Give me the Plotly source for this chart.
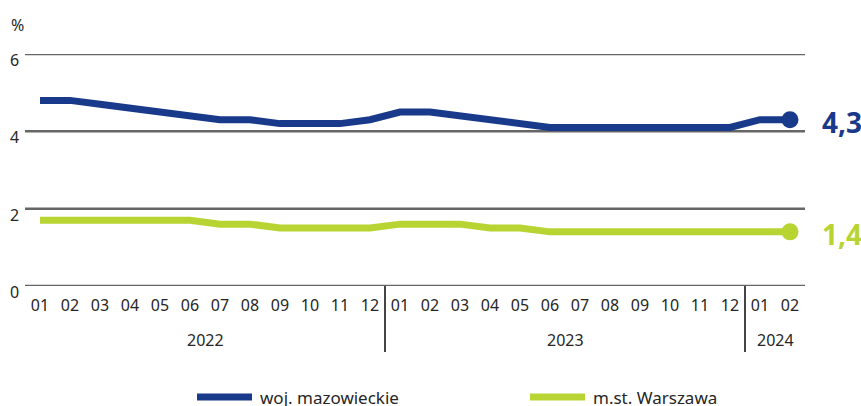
import plotly.graph_objects as go

months = ["01","02","03","04","05","06","07","08","09","10","11","12",
          "01","02","03","04","05","06","07","08","09","10","11","12",
          "01","02"]
years = ["2022", "2023", "2024"]
year_counts = [12, 12, 2]
mazowieckie = [4.8, 4.8, 4.7, 4.6, 4.5, 4.4, 4.3, 4.3, 4.2, 4.2, 4.2, 4.3,
               4.5, 4.5, 4.4, 4.3, 4.2, 4.1, 4.1, 4.1, 4.1, 4.1, 4.1, 4.1,
               4.3, 4.3]
warszawa = [1.7, 1.7, 1.7, 1.7, 1.7, 1.7, 1.6, 1.6, 1.5, 1.5, 1.5, 1.5,
            1.6, 1.6, 1.6, 1.5, 1.5, 1.4, 1.4, 1.4, 1.4, 1.4, 1.4, 1.4,
            1.4, 1.4]
series_names = ["woj. mazowieckie", "m.st. Warszawa"]
end_labels = ["4,3", "1,4"]
y_ticks = [0, 2, 4, 6]

BLUE = "#19398a"
GREEN = "#b7d433"
GRID = "#666666"
TEXT = "#262626"
FONT = "Noto Sans"

x = list(range(len(months)))
fig = go.Figure()

for vals, color, name in [(mazowieckie, BLUE, series_names[0]), (warszawa, GREEN, series_names[1])]:
    fig.add_trace(go.Scatter(x=x, y=vals, mode="lines", name=name,
                             line=dict(color=color, width=7), showlegend=False,
                             hoverinfo="skip"))
    fig.add_trace(go.Scatter(x=[x[-1]], y=[vals[-1]], mode="markers",
                             marker=dict(color=color, size=17), showlegend=False,
                             hoverinfo="skip"))

# gridlines
for t in y_ticks:
    fig.add_shape(type="line", xref="paper", yref="y", x0=0, x1=1, y0=t, y1=t,
                  line=dict(color=GRID, width=2.5), layer="below")
    fig.add_annotation(xref="paper", yref="y", x=0, y=t, text=str(t), showarrow=False,
                       xanchor="right", yanchor="middle", xshift=-4, yshift=-6,
                       font=dict(family=FONT, size=16, color=TEXT))

# year dividers and labels
start = 0
for i, (yr, cnt) in enumerate(zip(years, year_counts)):
    end = start + cnt
    if i < len(years) - 1:
        fig.add_shape(type="line", xref="x", yref="paper", x0=end - 0.5, x1=end - 0.5,
                      y0=0, y1=-0.285, line=dict(color="#444444", width=2))
    fig.add_annotation(xref="x", yref="paper", x=(start + end - 1) / 2, y=0, yshift=-54,
                       text=yr, showarrow=False, yanchor="middle",
                       font=dict(family=FONT, size=16, color=TEXT))
    start = end

# end labels
for vals, color, lab in [(mazowieckie, BLUE, end_labels[0]), (warszawa, GREEN, end_labels[1])]:
    fig.add_annotation(xref="x", yref="y", x=x[-1], y=vals[-1], text="<b>" + lab + "</b>",
                       showarrow=False, xanchor="left", yanchor="middle", xshift=30, yshift=-2,
                       font=dict(family=FONT, size=28, color=color))

# % label
fig.add_annotation(xref="paper", yref="paper", x=0, y=1, yshift=29, xshift=-8, text="%",
                   showarrow=False, xanchor="center", yanchor="middle",
                   font=dict(family=FONT, size=16, color=TEXT))

# legend (custom)
legend_items = [(BLUE, series_names[0], 197), (GREEN, series_names[1], 530)]
for color, name, px in legend_items:
    fig.add_shape(type="line", xref="paper", yref="paper",
                  x0=(px - 25) / 780, x1=(px + 55 - 25) / 780,
                  y0=(286 - 397) / 232, y1=(286 - 397) / 232,
                  line=dict(color=color, width=7))
    fig.add_annotation(xref="paper", yref="paper", x=(px + 61 - 25) / 780, y=(286 - 397) / 232,
                       text=name, showarrow=False, xanchor="left", yanchor="middle",
                       font=dict(family=FONT, size=17, color=TEXT))

fig.update_layout(
    width=861, height=406,
    margin=dict(l=25, r=56, t=54, b=120),
    paper_bgcolor="white", plot_bgcolor="white",
    showlegend=False,
    xaxis=dict(range=[-0.5, len(months) - 0.5], tickvals=x, ticktext=months,
               showgrid=False, zeroline=False, showline=False, ticks="",
               ticklabelstandoff=8,
               tickfont=dict(family=FONT, size=16, color=TEXT), fixedrange=True),
    yaxis=dict(range=[0, 6], showgrid=False, zeroline=False, showline=False,
               showticklabels=False, ticks="", fixedrange=True),
)
fig.write_html("out.html", config={"displayModeBar": False},
               post_script="document.body.style.margin='0';document.body.style.overflow='hidden';")
